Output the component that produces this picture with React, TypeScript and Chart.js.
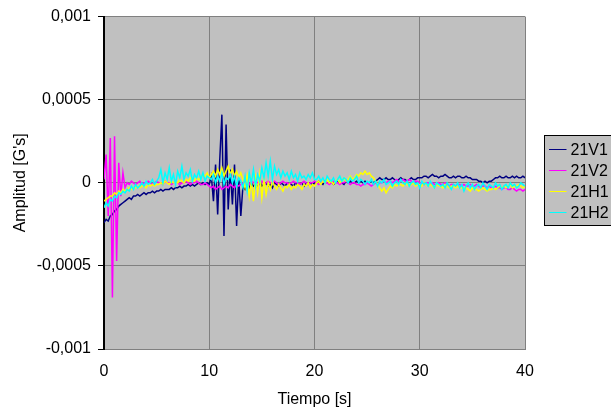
import React, { useEffect, useRef } from "react";
import { Chart, registerables } from "chart.js";

Chart.register(...registerables);

// Sampling interval of the recorded signals (seconds)
const sampleStep = 0.2;

// Amplitudes in units of 1e-5 G, one value every 0.2 s from 0 to 40 s
const v1_21V1 = [
  -24, -22, -23, -20, -19, -17, -16, -14, -13, -12, -11,
  -10, -9, -10, -8, -8, -7, -8, -7, -6, -7,
  -6, -6, -5, -6, -5, -5, -4, -5, -4, -4,
  -4, -3, -4, -3, -3, -2, -3, -2, -2, -1,
  -2, -1, -2, -1, 0, -1, 0, -1, 0,
  -1, 4, -11, 11, -19, 14, 41, -32, 35, -16, 8, -13, 11, -26, 3, -20, -2, -4,
  -1, -3, 0, -2, -1, -3, 1, -2, -1, 0, -2, -1, -3, 0, -1, -2, 0, -1, -2, 0, -1, -1, -2, 0, -1, -1, 0, -2, 0, -1, 0, -1, 0,
  0, 1, 0, -1, 1, 0, 0, 1, -1, 0, 1, 0, 0, -1, 1, 0, 1, 0, 0, 1, 0, 1, 0, 1, 0,
  0, 1, 0, 1, 2, 3, 2, 2, 3, 2, 2, 3, 2, 1, 2, 3, 2, 2, 1, 2, 3, 2, 2, 3, 3,
  3, 4, 4, 3, 4, 5, 4, 4, 3, 4, 4, 5, 4, 3, 3, 4, 3, 4, 4, 3, 3, 4, 3, 3, 2,
  2, 2, 1, 1, 0, 1, 0, 1, 1, 2, 3, 3, 4, 3, 3, 4, 3, 3, 4, 3, 4, 3, 3, 4, 3,
];

const v2_21V2 = [
  2, 17, -20, 27, -69, 28, -47, 12, -8, 6, -3,
  0, -1, 1, 0, -1, 0, 1, -1, 0, 0, 1, 0, -1, 0, 1, 0, 0, -1, 1, 0,
  0, -1, 0, 1, 0, -1, 0, 0, 1, 0, -1, 0, 0, 1, 0, -1, -1, 0, -1, -2,
  -3, -2, -4, -3, -2, -4, -3, -2, -3, -1, -2, -3, -1, -2, -1,
  0, 1, 0, -1, 1, 0, 1, 0, 0, 1, -1, 0, 1, 0, 0, 1, 0, -1, 0, 1,
  0, 0, -1, 0, 1, 0, 0, -1, 0, 1, 0, -1, 0, 0, 1,
  0, -1, 0, 1, 0, 0, -1, 0, 1, 0, 0, -1, 0, 0, 1, 0, -1, 0, 0, -1,
  -1, -2, -1, -1, 0, -1, -2, -1, 0, -1, 0, 0, 1, 0, 1, 1, 0, 1, 2, 1,
  1, 2, 1, 1, 2, 1, 0, 1, 1, 0,
  0, -1, 0, 0, -1, 0, -1, -1, 0, -1, -1, 0, -1, -2, -1, -1, -2, -1, -1, -2,
  -1, -2, -2, -1, -2, -2, -1, -2, -3, -2, -2, -3, -2, -3, -3, -2, -3, -3, -4, -3,
  -3, -4, -4, -3, -4, -5, -4, -4, -5, -4,
];

const h1_21H1 = [
  -11, -10, -9, -8, -8, -6, -7, -5, -6, -4, -5,
  -4, -3, -4, -3, -3, -2, -3, -2, -2, -3, -1, -2, -1, -2, -1,
  -1, 0, -1, 1, 0, -1, 1, 0, 1, 0, 2, 1, 0, 2, 1, 3, 2, 1, 3, 2,
  3, 5, 4, 6, 3, 5, 7, 4, 8, 5, 9, 4, 7, 10, 5, 8, 4, 7, 3, 6,
  2, -3, 4, -8, 1, -11, 3, -6, 5, -9, 2, -7, 0, -4, 1,
  -2, -4, -1, -3, -5, -2, -3, -1, -4, -2, -3, -1, -2, -4, -1, -2, 0, -3, -1, -2,
  0, 1, -1, 1, 0, 2, 0, 1, -1, 1, 2, 0, 1, 3, 1, 2, 4, 2, 3, 5,
  4, 6, 5, 7, 5, 6, 4, 3, 1, -1, -3, -5, -3, -6, -4, -2, -3, -1, -2, -1,
  -1, -2, 0, -1, -2, -1, 0, -2, -1, -1, -2, 0, -1, -2, -1,
  -2, -3, -1, -2, -2, -3, -1, -2, -3, -2, -2, -3, -2, -3, -3,
  -4, -3, -4, -5, -3, -4, -4, -5, -4, -3, -4, -5, -4, -4, -3,
  -4, -3, -2, -3, -2, -3, -2, -1, -3, -2, -2, -1, -2, -3, -2,
];

const h2_21H2 = [
  -15, -12, -14, -10, -11, -8, -9, -6, -7, -5, -6,
  -4, -5, -2, -4, -1, -3, -2, 0, -2, 1, -1, 0, 2, -1, 1,
  3, 8, 0, 6, 2, 9, 1, 5, -1, 7, 3, 10, 2, 6, 4, 8, 1, 5, 3, 7, 2, 6, 1, 4, 3,
  2, 5, 0, 4, 1, 6, -1, 3, 2, 5, 0, 4, -2, 3, 1,
  -3, 4, -5, 6, 0, 8, -2, 5, 1, 9, 3, 12, 4, 13, 2, 10, 5, 8, 3, 7,
  4, 6, 2, 7, 3, 5, 1, 6, 3, 4, 2, 5, 3, 6, 2,
  2, 4, 1, 3, 0, 4, 2, 1, 3, 0, 2, 4, 1, 3, 2, 0, 3, 1, 2, 4, 0, 2, 1, -1, 1,
  0, 2, -1, 1, -2, 1, 0, 2, -1, 0, 1, -2, 0, 1, -1, 2, 0, -1, 1, -2,
  0, 1, -1, 0, -3, 1, -1, 0, -2, 1, -1, -3, 0, -1, -2,
  -1, -3, 0, -2, -4, -1, -2, 0, -3, -1, -5, -2, 0, -3, -1, -4, -2, -1, -3, 0,
  -2, -4, -1, -2, -3, 0, -2, -1, -4, -2, -1, -3, 0, -2, -1, -3, -2, 0, -1, -2,
];

const amplitudeUnit = 1e-5;

const seriesNames = ["21V1", "21V2", "21H1", "21H2"];
const seriesValues = [v1_21V1, v2_21V2, h1_21H1, h2_21H2];
const seriesColors = ["#000080", "#FF00FF", "#FFFF00", "#00FFFF"];

const xTicks = [0, 10, 20, 30, 40];
const yTickLabels = ["-0,001", "-0,0005", "0", "0,0005", "0,001"];

const xTitle = "Tiempo [s]";
const yTitle = "Amplitud [G's]";

const FONT = "'Liberation Sans', Arial, Helvetica, sans-serif";
const FONT_SIZE = 16;

const plotBgPlugin = {
  id: "plotBg",
  beforeDraw(chart: any) {
    const { ctx, chartArea } = chart;
    ctx.save();
    ctx.fillStyle = "#FFFFFF";
    ctx.fillRect(0, 0, chart.width, chart.height);
    ctx.fillStyle = "#C0C0C0";
    ctx.fillRect(chartArea.left, chartArea.top, chartArea.right - chartArea.left, chartArea.bottom - chartArea.top);
    ctx.restore();
  },
};

const boxLegendPlugin = {
  id: "boxLegend",
  afterDraw(chart: any) {
    const { ctx, chartArea } = chart;
    const boxLeft = chartArea.right + 19.5;
    const boxTop = 135.5;
    const rowH = 21;
    ctx.save();
    ctx.fillStyle = "#C0C0C0";
    ctx.fillRect(boxLeft, boxTop, 80, 90);
    ctx.strokeStyle = "#000";
    ctx.lineWidth = 1;
    ctx.strokeRect(boxLeft, boxTop, 80, 90);
    ctx.font = `${FONT_SIZE}px ${FONT}`;
    ctx.textBaseline = "middle";
    ctx.textAlign = "left";
    seriesNames.forEach((name, i) => {
      const y = Math.round(boxTop + 13 + i * rowH) + 0.5;
      ctx.strokeStyle = seriesColors[i];
      ctx.lineWidth = 1;
      ctx.beginPath();
      ctx.moveTo(boxLeft + 4.5, y);
      ctx.lineTo(boxLeft + 22, y);
      ctx.stroke();
      ctx.fillStyle = "#000";
      ctx.fillText(name, boxLeft + 26, y + 1);
    });
    ctx.restore();
  },
};

export default function App() {
  const canvasRef = useRef<HTMLCanvasElement | null>(null);

  useEffect(() => {
    const canvas = canvasRef.current;
    if (!canvas) return;
    const datasets = seriesNames.map((name, i) => ({
      label: name,
      data: seriesValues[i].map((v, k) => ({ x: k * sampleStep, y: v * amplitudeUnit })),
      borderColor: seriesColors[i],
      backgroundColor: seriesColors[i],
      borderWidth: 1.5,
      pointRadius: 0,
      tension: 0,
      fill: false,
      order: seriesNames.length - i,
    }));

    const chart = new Chart(canvas, {
      type: "line",
      data: { datasets },
      options: {
        animation: false,
        responsive: false,
        maintainAspectRatio: false,
        events: [],
        layout: { padding: { left: 0, top: 16, right: 86, bottom: 0 } },
        plugins: {
          legend: { display: false },
          tooltip: { enabled: false },
        },
        scales: {
          x: {
            type: "linear",
            min: 0,
            max: 40,
            afterBuildTicks: (scale: any) => {
              scale.ticks = xTicks.map((v) => ({ value: v }));
            },
            afterFit: (scale: any) => {
              scale.height = 63;
            },
            ticks: {
              color: "#000",
              font: { family: FONT, size: FONT_SIZE },
              padding: 13,
              maxRotation: 0,
              callback: (v: any) => String(v),
            },
            grid: { color: "#808080", lineWidth: 1, drawTicks: false },
            border: { color: "#808080", width: 1 },
            title: {
              display: true,
              text: xTitle,
              color: "#000",
              font: { family: FONT, size: FONT_SIZE },
              padding: { top: 3, bottom: 3 },
            },
          },
          y: {
            type: "linear",
            min: -0.001,
            max: 0.001,
            afterBuildTicks: (scale: any) => {
              scale.ticks = [-0.001, -0.0005, 0, 0.0005, 0.001].map((v) => ({ value: v }));
            },
            afterFit: (scale: any) => {
              scale.width = 104;
            },
            ticks: {
              color: "#000",
              font: { family: FONT, size: FONT_SIZE },
              padding: 7,
              callback: (_v: any, idx: number) => yTickLabels[idx],
            },
            grid: { color: "#808080", lineWidth: 1, tickColor: "#000", tickLength: 6 },
            border: { color: "#000", width: 2 },
            title: {
              display: true,
              text: yTitle,
              color: "#000",
              font: { family: FONT, size: FONT_SIZE },
              padding: { top: 11, bottom: 11 },
            },
          },
        },
      },
      plugins: [plotBgPlugin, boxLegendPlugin],
    } as any);

    return () => chart.destroy();
  }, []);

  return (
    <div style={{ position: "fixed", left: 0, top: 0, width: 611, height: 412, background: "#fff" }}>
      <canvas ref={canvasRef} width={611} height={412} style={{ width: 611, height: 412, display: "block" }} />
    </div>
  );
}
